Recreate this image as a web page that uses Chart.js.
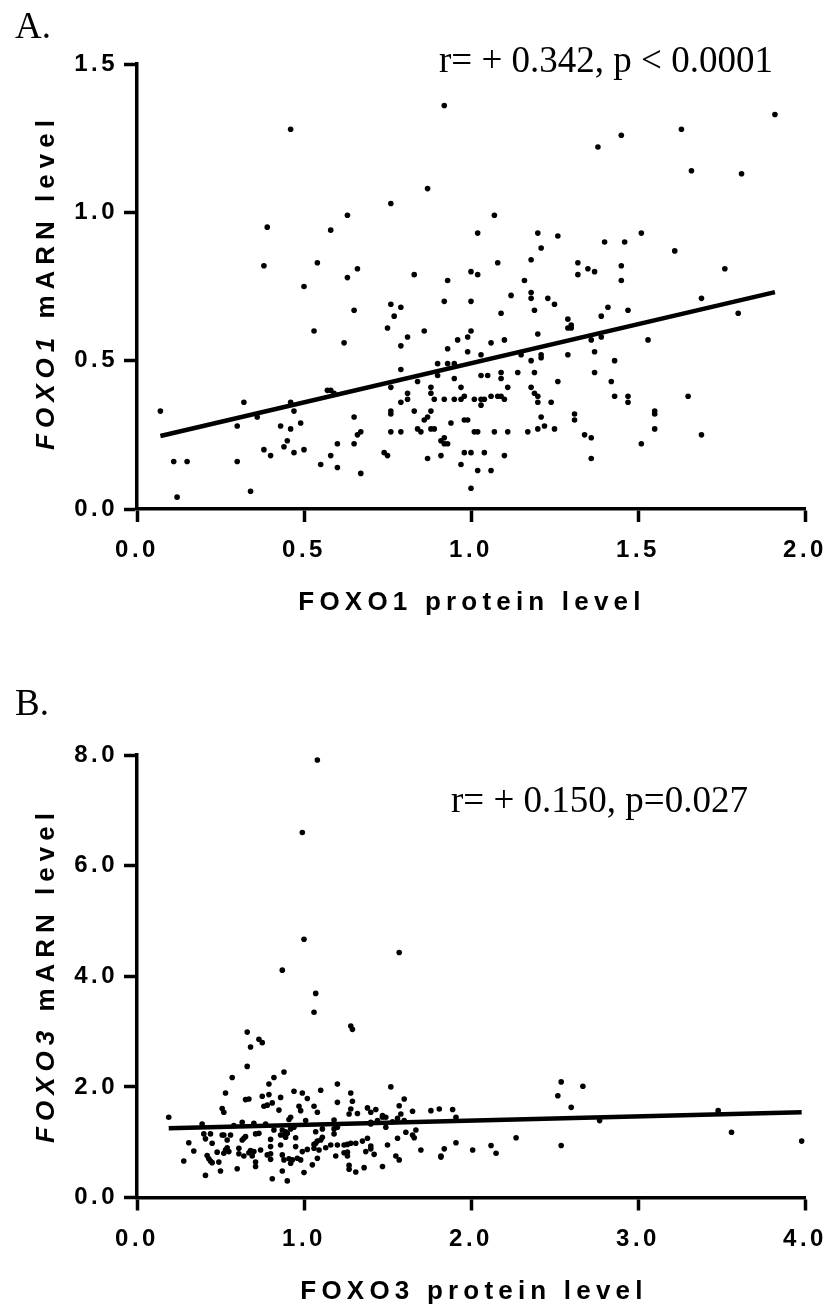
<!DOCTYPE html>
<html>
<head>
<meta charset="utf-8">
<title>FOXO1 / FOXO3</title>
<script src="https://cdn.jsdelivr.net/npm/chart.js@4/dist/chart.umd.min.js"></script>
<style>
  html, body { margin: 0; padding: 0; background: #fff; }
  #page { position: relative; width: 824px; height: 1306px; overflow: hidden; color: #000; }
  canvas { position: absolute; left: 0; }
  .txt { position: absolute; white-space: nowrap; line-height: 1; }
  .serif { font-family: "Liberation Serif", serif; font-size: 37px; }
  .axt { font-family: "Liberation Sans", sans-serif; font-weight: bold; font-size: 26px; letter-spacing: 6px; }
  .yt { transform: translate(-50%, -50%) rotate(-90deg); }
  .xt { transform: translate(-50%, -50%); letter-spacing: 5.2px; }
</style>
</head>
<body>
<div id="page">
  <canvas id="chartA" style="top:0;width:824px;height:640px"></canvas>
  <canvas id="chartB" style="top:640px;width:824px;height:666px"></canvas>

  <div class="txt serif" style="left:15px;top:7px">A.</div>
  <div class="txt serif" style="left:439px;top:41px">r= + 0.342, p &lt; 0.0001</div>
  <div class="txt axt yt" style="left:45px;top:282px"><i>FOXO1</i> mARN level</div>
  <div class="txt axt xt" style="left:472px;top:601px">FOXO1 protein level</div>

  <div class="txt serif" style="left:15px;top:684px">B.</div>
  <div class="txt serif" style="left:451px;top:781px">r= + 0.150, p=0.027</div>
  <div class="txt axt yt" style="left:45px;top:974.5px"><i>FOXO3</i> mARN level</div>
  <div class="txt axt xt" style="left:474px;top:1290px">FOXO3 protein level</div>
</div>

<script>
// Valores: painel A
const foxo1Protein = [
  .46,.92,.87,.76,.63,.39,.58,.38,.54,.66,.63,.50,.83,.93,1.00,
  1.91,1.63,1.45,1.38,1.66,1.81,1.07,1.02,1.20,1.26,1.21,1.40,1.46,1.51,1.61,1.18,1.08,1.32,1.35,1.37,1.32,1.45,1.45,1.16,1.76,1.02,
  .92,1.00,.76,.79,.65,.77,.75,.53,.86,.81,1.00,.99,.96,.62,.79,.93,.99,.90,.93,.95,.79,.90,.84,.95,.76,.88,.97,.57,.58,.59,.88,.81,.81,.89,.92,.95,.97,.98,.79,.32,.46,.07,.47,.76,.76,.83,.88,.36,.65,.87,.86,.98,.99,.30,.43,.49,.46,.94,.84,.85,.88,.89,.76,.79,.67,.66,.92,.91,.92,.93,.45,.44,.60,.65,.38,.50,.40,.47,.74,.75,.58,.98,1.00,.91,.87,.11,.15,.30,.55,.97,.60,.67,.34,.12,1.00,
  1.12,1.18,1.18,1.23,1.25,1.09,1.19,1.41,1.39,1.47,1.69,1.80,1.29,1.30,1.30,1.29,1.20,1.06,1.10,1.36,1.39,1.53,1.03,1.15,1.21,1.21,1.29,1.37,1.18,1.43,1.03,1.05,1.09,1.09,1.14,1.19,1.37,1.26,1.42,1.11,1.18,1.19,1.20,1.20,1.24,1.01,1.03,1.04,1.03,1.06,1.08,1.09,1.10,1.43,1.47,1.47,1.65,1.55,1.55,1.31,1.31,1.21,1.22,1.20,1.25,1.55,1.01,1.02,1.07,1.11,1.17,1.34,1.36,1.69,1.51,1.04,1.10,1.36,1.02,1.06
];
const foxo1Mrna = [
  1.28,1.36,1.08,1.03,.99,.95,.94,.82,.83,.81,.78,.75,.79,.77,.80,
  1.33,1.28,1.26,1.22,1.14,1.13,.99,.93,.93,.92,.88,.90,.90,.93,.87,.84,.83,.83,.81,.80,.79,.82,.77,.77,.81,.79,
  .70,.70,.69,.68,.67,.65,.61,.60,.60,.58,.60,.58,.57,.56,.55,.54,.53,.49,.49,.49,.47,.45,.43,.44,.41,.41,.41,.40,.40,.39,.39,.39,.37,.37,.37,.37,.37,.38,.36,.36,.36,.33,.33,.33,.32,.33,.33,.31,.31,.31,.30,.30,.30,.28,.28,.29,.27,.29,.27,.26,.27,.27,.26,.26,.26,.25,.24,.23,.22,.22,.23,.21,.22,.22,.20,.20,.18,.19,.19,.18,.18,.19,.19,.18,.17,.16,.16,.16,.15,.15,.14,.12,.06,.04,.07,
  .72,.73,.71,.71,.69,.66,.67,.68,.65,.67,.71,.66,.64,.62,.61,.61,.59,.56,.57,.57,.58,.57,.52,.52,.52,.51,.52,.53,.50,.50,.45,.45,.46,.44,.46,.46,.46,.43,.43,.41,.41,.39,.38,.36,.36,.37,.37,.37,.35,.38,.38,.38,.37,.38,.38,.36,.38,.33,.32,.32,.30,.31,.28,.27,.27,.27,.26,.26,.26,.26,.26,.25,.24,.25,.22,.19,.18,.17,.13,.13
];
const fit1X = [.07, 1.91];
const fit1Y = [.246, .731];
const ticksA_x = [0, .5, 1, 1.5, 2];
const ticksA_y = [0, .5, 1, 1.5];

// Painel B
const foxo3Protein = [
  1.08,.99,1.00,1.57,.87,1.07,
  1.06,1.28,1.29,.66,.73,.75,.68,.66,.88,.82,.57,.79,1.20,1.10,.94,.99,1.28,.53,.79,.75,.86,1.02,.65,.67,1.20,1.29,.81,.78,.76,.97,1.06,1.38,1.43,1.40,1.28,.51,.52,.85,.98,1.08,1.32,1.27,.19,.92,.91,1.18,1.01,.63,.39,.70,.77,.58,1.40,1.40,1.44,1.20,1.18,1.11,.94,.92,.82,.87,.89,1.07,1.18,.40,.44,.41,.51,.52,.56,.65,.64,.63,.71,.73,.86,.88,.89,.90,.54,.95,.80,1.11,1.10,1.08,1.07,1.06,1.38,1.35,.45,.31,1.31,1.28,1.26,1.24,1.20,1.16,1.13,1.09,1.06,1.02,.99,.95,.86,.80,.74,.61,.54,.53,.55,.52,.48,.34,1.40,1.40,1.37,1.42,1.24,1.26,1.26,1.19,1.08,.98,.96,.93,.91,.92,.88,.87,.80,.80,.78,.71,.71,.70,.68,.67,.69,.64,.61,.42,.43,.44,.45,.49,.28,.41,.50,.60,.81,.87,.90,1.00,1.05,1.27,1.27,1.31,1.36,
  1.52,1.60,1.57,1.58,1.65,1.76,1.81,1.89,1.91,1.47,1.49,1.47,1.56,1.53,1.60,1.49,1.67,1.61,1.65,1.66,1.56,1.50,1.55,1.57,1.47,1.70,1.84,1.82,1.82,1.91,2.01,2.12,2.15,2.27,2.54,2.67,2.52,2.60,2.77,2.54,3.48,3.56,3.98
];
const foxo3Mrna = [
  7.91,6.60,4.67,4.43,4.11,3.69,
  3.35,3.10,3.04,2.99,2.86,2.80,2.72,2.37,2.27,2.17,2.17,2.05,2.05,1.94,1.92,1.89,1.89,1.89,1.86,1.83,1.81,1.79,1.77,1.78,1.72,1.74,1.71,1.67,1.65,1.65,1.65,1.62,1.59,1.54,1.60,1.61,1.54,1.58,1.57,1.54,1.52,1.51,1.45,1.45,1.41,1.40,1.39,1.36,1.33,1.34,1.33,1.30,1.36,1.33,1.39,1.27,1.24,1.24,1.27,1.24,1.22,1.22,1.19,1.19,1.15,1.15,1.15,1.06,1.13,1.13,1.13,1.10,1.07,1.04,1.15,1.16,1.13,1.13,1.09,1.16,1.04,1.08,1.05,1.09,1.04,1.02,.98,.96,1.07,1.02,.98,.99,.98,.98,.96,.95,.95,.95,.90,.86,.89,.87,.83,.92,.95,.92,.86,.89,.90,.86,.83,.80,.82,.84,.93,.88,.83,.78,.81,.82,.75,.75,.71,.68,.71,.68,.70,.62,.68,.77,.69,.79,.77,.64,.56,.83,.85,.81,.75,.75,.79,.76,.70,.66,.63,.64,.66,.40,.48,.52,.34,.48,.30,.45,.59,.58,.51,.46,.54,
  2.00,1.78,1.66,1.51,1.56,1.57,1.60,1.59,1.45,1.48,1.45,1.45,1.43,1.37,1.39,1.27,1.22,1.18,1.13,1.08,1.07,.95,.75,.68,.56,.86,.88,.75,.73,.99,.86,.94,.80,1.08,2.09,2.01,1.84,1.63,1.39,.94,1.57,1.18,1.02
];
const fit3X = [.19, 3.98];
const fit3Y = [1.25, 1.54];
const ticksB_x = [0, 1, 2, 3, 4];
const ticksB_y = [0, 2, 4, 6, 8];

// espaçamento entre letras dos rótulos dos eixos
const tickSpacing = {
    id: 'tickSpacing',
    beforeDraw(chart) { chart.ctx.letterSpacing = '3.5px'; }
};

function toPoints(xs, ys) {
    return xs.map((x, i) => ({ x, y: ys[i] }));
}

function buildAxis(tickValues, fitSide, fitSize, labelPadding) {
    return {
        type: 'linear',
        min: tickValues[0],
        max: tickValues[tickValues.length - 1],
        afterBuildTicks: scale => { scale.ticks = tickValues.map(value => ({ value })); },
        afterFit: scale => {
            scale[fitSide] = fitSize;
            // sem isto o último rótulo encolhe a área do gráfico
            scale.paddingLeft = scale.paddingRight = scale.paddingTop = scale.paddingBottom = 0;
        },
        border: { color: '#000', width: 3.5 },
        grid: { drawOnChartArea: false, drawTicks: true, tickLength: 13, tickWidth: 3.5, tickColor: '#000' },
        ticks: {
            autoSkip: false,
            maxRotation: 0,
            padding: labelPadding,
            color: '#000',
            font: { family: '"Liberation Sans"', weight: 'bold', size: 24 },
            callback: value => value.toFixed(1)
        }
    };
}

function makeChart(id, height, xs, ys, fitX, fitY, xTicks, yTicks, top, bottom) {
    const canvas = document.getElementById(id);
    return new Chart(canvas.getContext('2d'), {
        type: 'scatter',
        data: {
            datasets: [
                {
                    data: toPoints(fitX, fitY),
                    showLine: true,
                    borderColor: '#000',
                    borderWidth: 4.5,
                    pointRadius: 0,
                    order: 1
                },
                {
                    data: toPoints(xs, ys),
                    backgroundColor: '#000',
                    borderWidth: 0,
                    pointRadius: 2.8,
                    order: 2
                }
            ]
        },
        options: {
            responsive: false,
            animation: false,
            layout: { padding: { top, right: 19, bottom: 0, left: 0 } },
            plugins: { legend: { display: false }, tooltip: { enabled: false } },
            scales: {
                x: buildAxis(xTicks, 'height', height - bottom, 14),
                y: buildAxis(yTicks, 'width', 137, 6)
            }
        },
        plugins: [tickSpacing]
    });
}

document.getElementById('chartA').width = 824;
document.getElementById('chartA').height = 640;
document.getElementById('chartB').width = 824;
document.getElementById('chartB').height = 666;

makeChart('chartA', 640, foxo1Protein, foxo1Mrna, fit1X, fit1Y, ticksA_x, ticksA_y, 64, 509);
makeChart('chartB', 666, foxo3Protein, foxo3Mrna, fit3X, fit3Y, ticksB_x, ticksB_y, 115, 557.5);
</script>
</body>
</html>
